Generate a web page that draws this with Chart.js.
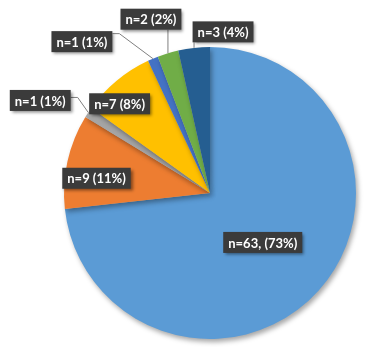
<!DOCTYPE html>
<html>
<head>
<meta charset="utf-8">
<script src="https://cdn.jsdelivr.net/npm/chart.js@4"></script>
<style>
  html, body { margin: 0; padding: 0; background: #fff; }
  #wrap { width: 366px; height: 347px; }
</style>
</head>
<body>
<div id="wrap"><canvas id="myChart"></canvas></div>
<script>
// data
const counts = [63, 9, 1, 7, 1, 2, 3]
const labels = ['n=63, (73%)', 'n=9 (11%)', 'n=1 (1%)', 'n=7 (8%)', 'n=1 (1%)', 'n=2 (2%)', 'n=3 (4%)']
const colors = ['#5B9BD5', '#ED7D31', '#A5A5A5', '#FFC000', '#4472C4', '#70AD47', '#255E91']

// label box offset from the middle of each slice's outer edge
const labelOffsets = [[-56, -48], [29, 17], [-48, -12], [3, 23], [-71, -17], [-17, -34], [29, -16]]
// leader: null = none, 'near' = to nearest box point, 'side' = elbow into the box's right side
const leader = [null, null, 'side', null, 'side', 'near', 'near']
const leaderY = [0, 0, -3, 0, -8, 0, 0]

const ctx = document.getElementById('myChart')

const shadowPlugin = {
    id: 'pieShadow',
    beforeDatasetsDraw(chart) {
        const c = chart.ctx
        c.save()
        c.shadowColor = 'rgba(0,0,0,0.35)'
        c.shadowBlur = 5
        c.shadowOffsetX = 2
        c.shadowOffsetY = 3
    },
    afterDatasetsDraw(chart) {
        chart.ctx.restore()
    }
}

const labelPlugin = {
    id: 'boxLabels',
    afterDraw(chart) {
        const c = chart.ctx
        const arcs = chart.getDatasetMeta(0).data
        c.save()
        c.font = 'bold 13px Lato, "Open Sans", sans-serif'
        c.textAlign = 'center'
        c.textBaseline = 'middle'
        arcs.forEach((arc, i) => {
            const p = arc.getProps(['x', 'y', 'startAngle', 'endAngle', 'outerRadius'], true)
            const mid = (p.startAngle + p.endAngle) / 2
            const ex = p.x + Math.cos(mid) * p.outerRadius
            const ey = p.y + Math.sin(mid) * p.outerRadius
            const bx = ex + labelOffsets[i][0]
            const by = ey + labelOffsets[i][1]
            const w = c.measureText(labels[i]).width + 10
            const h = 21
            const x0 = bx - w / 2, y0 = by - h / 2
            if (leader[i]) {
                c.strokeStyle = '#7f7f7f'
                c.lineWidth = 1
                c.beginPath()
                c.moveTo(ex, ey)
                if (leader[i] === 'side') {
                    const ly = by + leaderY[i]
                    const kx = Math.min(ex, x0 + w + 7)
                    c.lineTo(kx, ly)
                    c.lineTo(x0 + w, ly)
                } else {
                    const lx = Math.min(Math.max(ex, x0), x0 + w)
                    const ly = Math.min(Math.max(ey, y0), y0 + h)
                    c.lineTo(lx, ly)
                }
                c.stroke()
            }
            c.save()
            c.shadowColor = 'rgba(0,0,0,0.45)'
            c.shadowBlur = 3
            c.shadowOffsetX = 2
            c.shadowOffsetY = 2
            c.fillStyle = '#3b3b3b'
            c.fillRect(x0, y0, w, h)
            c.restore()
            c.fillStyle = '#ffffff'
            c.fillText(labels[i], bx, by + 1)
        })
        c.restore()
    }
}

new Chart(ctx, {
    type: 'pie',
    data: {
        labels: labels,
        datasets: [{
            data: counts,
            backgroundColor: colors,
            borderWidth: 0
        }]
    },
    options: {
        responsive: true,
        maintainAspectRatio: false,
        animation: false,
        layout: {
            padding: { left: 64, right: 10, top: 47, bottom: 8 }
        },
        plugins: {
            legend: { display: false },
            tooltip: { enabled: false }
        }
    },
    plugins: [shadowPlugin, labelPlugin]
});
</script>
</body>
</html>
